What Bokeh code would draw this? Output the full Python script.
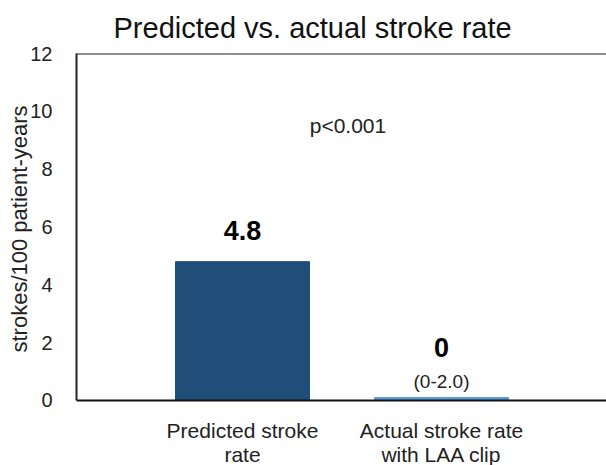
from bokeh.plotting import figure
from bokeh.models import ColumnDataSource, FixedTicker, Span, Range1d, Title
from bokeh.core.properties import value
from bokeh.embed import file_html
from bokeh.resources import INLINE

# ---- data ----
categories = ["Predicted stroke\nrate", "Actual stroke rate\nwith LAA clip"]
rates = [4.8, 0.1]
value_labels = ["4.8", "0"]
ci_labels = ["", "(0-2.0)"]
bar_colors = ["#1F4E79", "#5B9BD5"]
y_ticks = [0, 2, 4, 6, 8, 10, 12]
y_title = "strokes/100 patient-years"
p_text = "p<0.001"

FONT = "Liberation Sans"
xs = [i + 1 for i in range(len(categories))]
line1 = [c.split("\n")[0] for c in categories]
line2 = [c.split("\n")[1] for c in categories]

p = figure(width=606, height=465, output_backend="svg", toolbar_location=None,
           x_range=Range1d(0.166, 2.829), y_range=Range1d(-2.25, 12),
           min_border_left=76, min_border_right=0, min_border_bottom=0,
           min_border_top=10)
p.title.text = "Predicted vs. actual stroke rate"
p.title.text_font = FONT
p.title.text_font_size = "29px"
p.title.text_font_style = "normal"
p.title.text_color = "#111111"
p.title.align = "left"
p.title.offset = 37
p.title.standoff = 19

p.outline_line_color = None
p.grid.grid_line_color = None
p.background_fill_color = "white"
p.border_fill_color = "white"

# value labels sit higher when an interval label is shown under them
val_offsets = [-50 if c else -31 for c in ci_labels]
src = ColumnDataSource(dict(x=xs, top=rates, color=bar_colors,
                            vlab=value_labels, ci=ci_labels,
                            voff=val_offsets, l1=line1, l2=line2))
p.vbar(x="x", top="top", bottom=0, width=0.673, color="color", source=src)

p.text(x="x", y="top", text="vlab", source=src, text_align="center",
       text_baseline="middle", y_offset="voff",
       text_font=value(FONT), text_font_style="bold", text_font_size="27px",
       text_color="#000000")
p.text(x="x", y=0, text="ci", source=src, text_align="center",
       text_baseline="middle", y_offset=-19,
       text_font=value(FONT), text_font_size="19px", text_color="#222222")

# category labels under the baseline
p.text(x="x", y=0, text="l1", source=src, text_align="center",
       text_baseline="middle", y_offset=30,
       text_font=value(FONT), text_font_size="21px", text_color="#222222")
p.text(x="x", y=0, text="l2", source=src, text_align="center",
       text_baseline="middle", y_offset=54,
       text_font=value(FONT), text_font_size="21px", text_color="#222222")

p.text(x=[1.53], y=[9.51], text=[p_text], text_align="center",
       text_baseline="middle", text_font=value(FONT),
       text_font_size="21px", text_color="#222222")

p.add_layout(Span(location=12, dimension="width", line_color="#222222",
                  line_width=2))
p.add_layout(Span(location=0, dimension="width", line_color="#111111",
                  line_width=2))

p.xaxis.visible = False

# y axis
ya = p.yaxis[0]
ya.bounds = (0, 12)
ya.ticker = FixedTicker(ticks=y_ticks)
ya.major_label_text_font = FONT
ya.major_label_text_font_size = "20px"
ya.major_label_text_color = "#222222"
ya.major_label_standoff = 18
ya.major_tick_line_color = None
ya.minor_tick_line_color = None
ya.axis_line_color = "#222222"
ya.axis_line_width = 2

# y axis title, centred on the 0-12 span rather than the whole frame
yt = Title(text=y_title, align="right", offset=52, standoff=-8,
           vertical_align="bottom", text_font=FONT, text_font_size="22px",
           text_font_style="normal", text_color="#222222")
p.add_layout(yt, "left")

open("out.html", "w").write(file_html(p, INLINE))
